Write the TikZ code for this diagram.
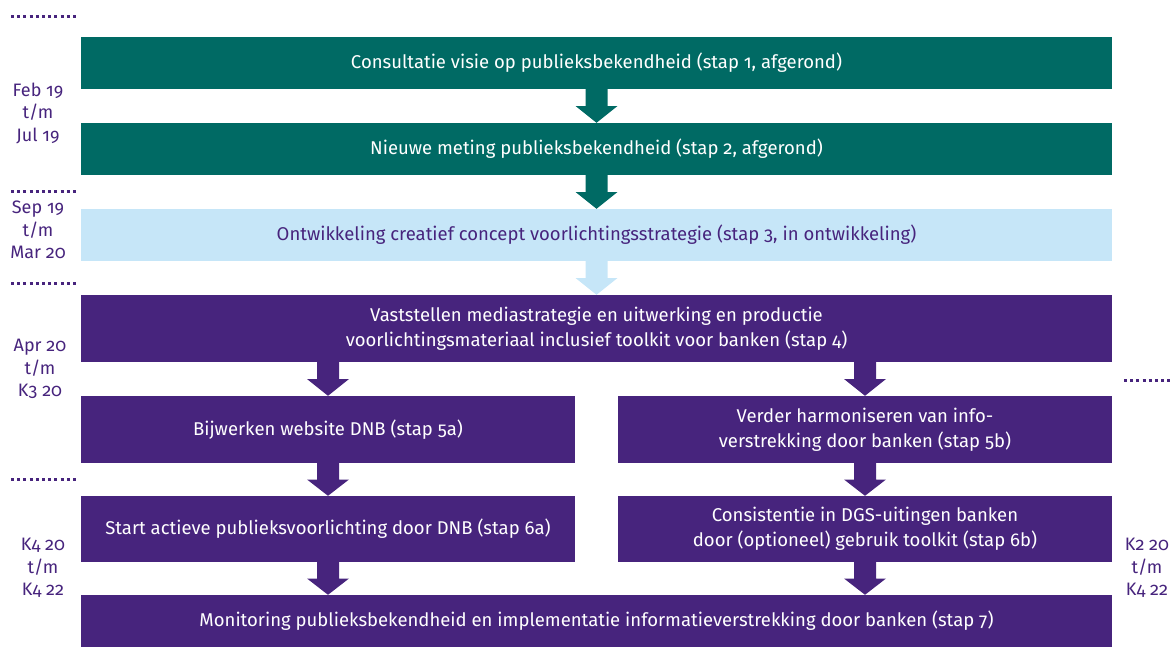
\documentclass[tikz,border=0pt]{standalone}
\usepackage{fontspec}
\setmainfont{Fira Sans}[Numbers=OldStyle]
\usetikzlibrary{calc}
\definecolor{dnbteal}{HTML}{006A64}
\definecolor{dnblight}{HTML}{C6E6F8}
\definecolor{dnbpurple}{HTML}{47247D}
\tikzset{
  box/.style={minimum height=#1, inner sep=0pt, align=center, font=\fontsize{18.5}{25}\selectfont},
  tealbox/.style={box=52pt, fill=dnbteal, text=white, minimum width=1031pt},
  lightbox/.style={box=52pt, fill=dnblight, text=dnbpurple, minimum width=1031pt},
  purplebox/.style={box=#1, fill=dnbpurple, text=white},
  period/.style={text=dnbpurple, align=center, inner sep=0pt, font=\fontsize{18}{22.5}\selectfont},
  sep/.style={draw=dnbpurple, line width=3pt, dash pattern=on 3pt off 3.2pt}
}
% colour, from, to, node giving the arrow's x position
\newcommand\flowarrow[4]{%
  \fill[#1] let \p1=(#2.south -| #4.center), \p2=(#3.north -| #4.center), \n1={(\y1-\y2)/2} in
    (\x1-11pt,\y1) -- (\x1+11pt,\y1) -- (\x1+11pt,\y1-\n1) -- (\x1+21pt,\y1-\n1)
    -- (\x2,\y2) -- (\x1-21pt,\y1-\n1) -- (\x1-11pt,\y1-\n1) -- cycle;}
\begin{document}
\begin{tikzpicture}[x=1pt,y=-1pt]
\useasboundingbox (0,0) rectangle (1172,661);
% boxes
\node[tealbox] (s1) at (596.5,63) {Consultatie visie op publieksbekendheid (stap 1, afgerond)};
\node[tealbox] (s2) at (596.5,149) {Nieuwe meting publieksbekendheid (stap 2, afgerond)};
\node[lightbox] (s3) at (596.5,235) {Ontwikkeling creatief concept voorlichtingsstrategie (stap 3, in ontwikkeling)};
\node[purplebox=67pt, minimum width=1031pt] (s4) at (596.5,328.5) {Vaststellen mediastrategie en uitwerking en productie\\voorlichtingsmateriaal inclusief toolkit voor banken (stap 4)};
\node[purplebox=67pt, minimum width=494pt] (s5a) at (328,429.5) {Bijwerken website DNB (stap 5a)};
\node[purplebox=67pt, minimum width=494pt] (s5b) at (865,429.5) {Verder harmoniseren van info-\\verstrekking door banken (stap 5b)};
\node[purplebox=66pt, minimum width=494pt] (s6a) at (328,529) {Start actieve publieksvoorlichting door DNB (stap 6a)};
\node[purplebox=66pt, minimum width=494pt] (s6b) at (865,529) {Consistentie in DGS-uitingen banken\\door (optioneel) gebruik toolkit (stap 6b)};
\node[purplebox=52pt, minimum width=1031pt] (s7) at (596.5,621) {Monitoring publieksbekendheid en implementatie informatieverstrekking door banken (stap 7)};
% arrows
\flowarrow{dnbteal}{s1}{s2}{s1}
\flowarrow{dnbteal}{s2}{s3}{s2}
\flowarrow{dnblight}{s3}{s4}{s3}
\flowarrow{dnbpurple}{s4}{s5a}{s5a}
\flowarrow{dnbpurple}{s4}{s5b}{s5b}
\flowarrow{dnbpurple}{s5a}{s6a}{s5a}
\flowarrow{dnbpurple}{s5b}{s6b}{s5b}
\flowarrow{dnbpurple}{s6a}{s7}{s6a}
\flowarrow{dnbpurple}{s6b}{s7}{s6b}
% separators
\coordinate (d1a) at (11,17);  \coordinate (d1b) at (78,17);
\coordinate (d2a) at (11,191); \coordinate (d2b) at (78,191);
\coordinate (d3a) at (11,283); \coordinate (d3b) at (78,283);
\coordinate (d4a) at (11,479); \coordinate (d4b) at (78,479);
\coordinate (d5a) at (1124,380); \coordinate (d5b) at (1172,380);
\draw[sep] (d1a) -- (d1b);
\draw[sep] (d2a) -- (d2b);
\draw[sep] (d3a) -- (d3b);
\draw[sep] (d4a) -- (d4b);
\draw[sep] (d5a) -- (d5b);
% period labels
\node[period] (p1) at (38,113) {Feb 19\\t/m\\Jul 19};
\node[period] (p2) at (38,230) {Sep 19\\t/m\\Mar 20};
\node[period] (p3) at (40,369) {Apr 20\\t/m\\K3 20};
\node[period] (p4) at (43,568) {K4 20\\t/m\\K4 22};
\node[period] (p5) at (1147,568) {K2 20\\t/m\\K4 22};
\end{tikzpicture}
\end{document}
